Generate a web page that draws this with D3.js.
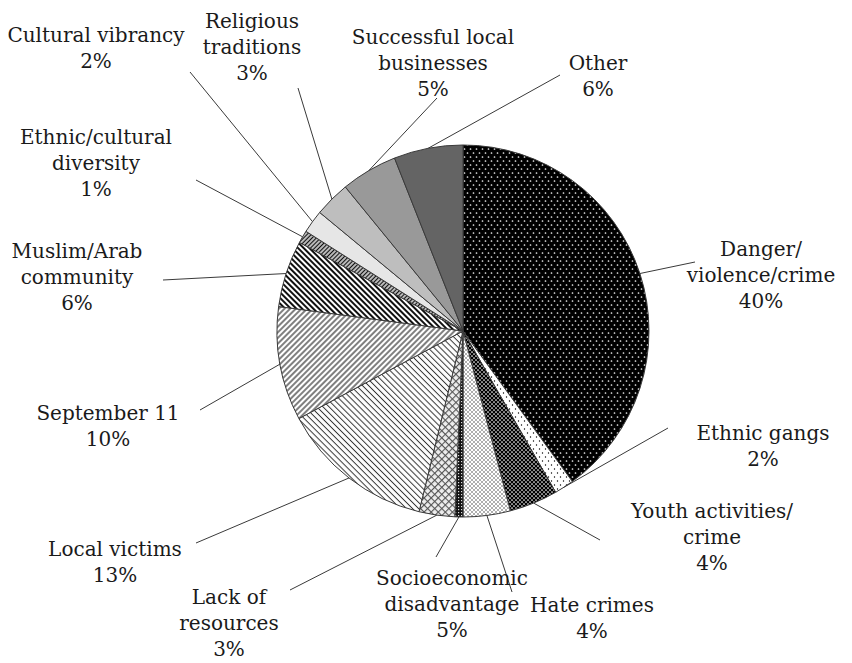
<!DOCTYPE html>
<html lang="en">
<head>
    <meta charset="UTF-8">
    <title>Pie chart</title>
    <script src="https://d3js.org/d3.v7.min.js"></script>
    <style>
        body { margin: 0; background: #fff; }
        .leader { stroke: #3a3a3a; stroke-width: 1; fill: none; }
    </style>
</head>
<body>
    <svg id="chart" width="852" height="663"></svg>
    <script>
        // slices clockwise from 12 o'clock
        const categories = [
            "Danger/violence/crime", "Ethnic gangs", "Youth activities/crime", "Hate crimes",
            "Socioeconomic disadvantage", "Lack of resources", "Local victims", "September 11",
            "Muslim/Arab community", "Ethnic/cultural diversity", "Cultural vibrancy",
            "Religious traditions", "Successful local businesses", "Other"
        ];
        const values = [40, 1.7, 4.2, 4.1, 0.7, 3.1, 13.4, 9.9, 5.8, 1.1, 2.0, 3.1, 4.9, 6.0];
        // percentages printed in the labels
        const pctLabels = ["40%", "2%", "4%", "4%", "5%", "3%", "13%", "10%", "6%", "1%", "2%", "3%", "5%", "6%"];
        const labelLines = [
            ["Danger/", "violence/crime"], ["Ethnic gangs"], ["Youth activities/", "crime"], ["Hate crimes"],
            ["Socioeconomic", "disadvantage"], ["Lack of", "resources"], ["Local victims"], ["September 11"],
            ["Muslim/Arab", "community"], ["Ethnic/cultural", "diversity"], ["Cultural vibrancy"],
            ["Religious", "traditions"], ["Successful local", "businesses"], ["Other"]
        ];

        // label placement: text centre x, first baseline y, leader start
        const labelLayout = [
            { x: 761, y: 256, lx: 695, ly: 262 },
            { x: 763, y: 440, lx: 668, ly: 428 },
            { x: 712, y: 518, lx: 600, ly: 540 },
            { x: 592, y: 612, lx: 512, ly: 592 },
            { x: 452, y: 585, lx: 436, ly: 557 },
            { x: 229, y: 604, lx: 290, ly: 590 },
            { x: 115, y: 556, lx: 196, ly: 543 },
            { x: 108, y: 420, lx: 200, ly: 410 },
            { x: 77, y: 258, lx: 163, ly: 280 },
            { x: 96, y: 144, lx: 196, ly: 180 },
            { x: 96, y: 42, lx: 190, ly: 72 },
            { x: 252, y: 28, lx: 298, ly: 88 },
            { x: 433, y: 44, lx: 437, ly: 98 },
            { x: 598, y: 70, lx: 560, ly: 75 }
        ];

        const cx = 463, cy = 331, radius = 186;
        const lineH = 26;

        const svg = d3.select("#chart");
        const defs = svg.append("defs");

        function dots(id, w, h, bg, fg, r, pts) {
            const p = defs.append("pattern").attr("id", id)
                .attr("patternUnits", "userSpaceOnUse").attr("width", w).attr("height", h);
            p.append("rect").attr("width", w).attr("height", h).attr("fill", bg);
            pts.forEach(d => p.append("circle").attr("cx", d[0]).attr("cy", d[1]).attr("r", r).attr("fill", fg));
        }
        function stripes(id, gap, width, color, angle) {
            const p = defs.append("pattern").attr("id", id)
                .attr("patternUnits", "userSpaceOnUse").attr("width", gap).attr("height", gap)
                .attr("patternTransform", `rotate(${angle})`);
            p.append("rect").attr("width", gap).attr("height", gap).attr("fill", "#fff");
            p.append("line").attr("x1", gap / 2).attr("x2", gap / 2).attr("y1", 0).attr("y2", gap)
                .attr("stroke", color).attr("stroke-width", width);
        }

        dots("pDanger", 6, 8, "#000", "#f0f0f0", 0.85, [[1.5, 2], [4.5, 6]]);
        dots("pGangs", 6, 8, "#fff", "#000", 0.7, [[1.5, 2], [4.5, 6]]);
        dots("pYouth", 4, 4, "#000", "#fff", 0.85, [[1, 1], [3, 3]]);
        dots("pHate", 4, 4, "#fff", "#222", 0.7, [[1, 1], [3, 3]]);
        // small dark checker
        const pc = defs.append("pattern").attr("id", "pSocio")
            .attr("patternUnits", "userSpaceOnUse").attr("width", 3).attr("height", 3);
        pc.append("rect").attr("width", 3).attr("height", 3).attr("fill", "#111");
        pc.append("rect").attr("x", 1).attr("y", 1).attr("width", 1.2).attr("height", 1.2).attr("fill", "#ddd");
        // diamond grid
        const pg = defs.append("pattern").attr("id", "pLack")
            .attr("patternUnits", "userSpaceOnUse").attr("width", 5).attr("height", 5)
            .attr("patternTransform", "rotate(45)");
        pg.append("rect").attr("width", 5).attr("height", 5).attr("fill", "#eee");
        pg.append("line").attr("x1", 0).attr("x2", 5).attr("y1", 0.5).attr("y2", 0.5).attr("stroke", "#555").attr("stroke-width", 1.2);
        pg.append("line").attr("x1", 0.5).attr("x2", 0.5).attr("y1", 0).attr("y2", 5).attr("stroke", "#555").attr("stroke-width", 1.2);

        stripes("pVictims", 4.3, 1, "#333", -45);
        stripes("pSept", 4, 1.5, "#555", 45);
        stripes("pMuslim", 4, 2, "#111", -45);
        stripes("pDiv", 3, 1.6, "#111", 45);

        const fills = [
            "url(#pDanger)", "url(#pGangs)", "url(#pYouth)", "url(#pHate)", "url(#pSocio)", "url(#pLack)",
            "url(#pVictims)", "url(#pSept)", "url(#pMuslim)", "url(#pDiv)",
            "#e6e6e6", "#bebebe", "#999999", "#646464"
        ];

        const pie = d3.pie().sort(null).value(d => d);
        const arcs = pie(values);
        const arc = d3.arc().innerRadius(0).outerRadius(radius);

        const g = svg.append("g").attr("transform", `translate(${cx},${cy})`);
        g.selectAll("path")
            .data(arcs)
            .enter()
            .append("path")
            .attr("d", arc)
            .attr("fill", (d, i) => fills[i])
            .attr("stroke", "#3a3a3a")
            .attr("stroke-width", 1);

        // leader lines from label to the slice edge
        svg.append("g").selectAll("line")
            .data(arcs)
            .enter()
            .append("line")
            .attr("class", "leader")
            .attr("x1", (d, i) => labelLayout[i].lx)
            .attr("y1", (d, i) => labelLayout[i].ly)
            .attr("x2", d => cx + radius * Math.sin((d.startAngle + d.endAngle) / 2))
            .attr("y2", d => cy - radius * Math.cos((d.startAngle + d.endAngle) / 2));

        const lbl = svg.append("g");
        categories.forEach((c, i) => {
            const L = labelLayout[i];
            const t = lbl.append("text")
                .attr("text-anchor", "middle")
                .attr("font-family", "DejaVu Serif")
                .attr("font-size", 20)
                .attr("fill", "#1a1a1a");
            labelLines[i].concat([pctLabels[i]]).forEach((s, k) => {
                t.append("tspan").attr("x", L.x).attr("y", L.y + k * lineH).text(s);
            });
        });
    </script>
</body>
</html>
